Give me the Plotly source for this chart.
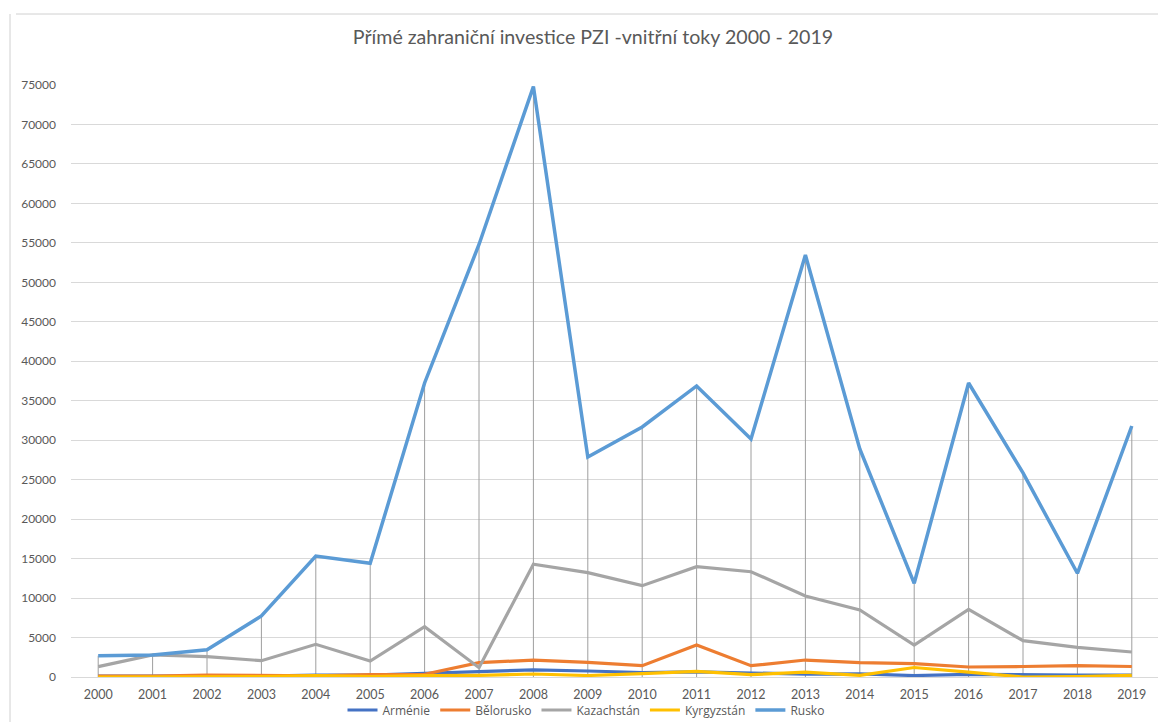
import plotly.graph_objects as go

years = [str(y) for y in range(2000, 2020)]

armenie = [100, 70, 110, 120, 250, 240, 450, 660, 900, 760, 570, 650, 490, 370, 400, 180, 340, 250, 250, 250]
belorusko = [120, 100, 250, 170, 160, 300, 350, 1810, 2150, 1860, 1430, 4050, 1430, 2150, 1810, 1690, 1270, 1330, 1430, 1330]
kazachstan = [1310, 2790, 2570, 2070, 4140, 2030, 6380, 1180, 14280, 13220, 11570, 13980, 13340, 10260, 8490, 4050, 8570, 4600, 3760, 3170]
kyrgyzstan = [0, 5, 5, 46, 175, 43, 182, 208, 377, 189, 438, 700, 293, 626, 211, 1200, 616, 0, 47, 210]
rusko = [2700, 2800, 3450, 7730, 15330, 14400, 37250, 54800, 74800, 27870, 31670, 36870, 30150, 53460, 28890, 11870, 37250, 25850, 13140, 31800]

series = [
    ("Arménie", armenie, "#4472C4"),
    ("Bělorusko", belorusko, "#ED7D31"),
    ("Kazachstán", kazachstan, "#A5A5A5"),
    ("Kyrgyzstán", kyrgyzstan, "#FFC000"),
    ("Rusko", rusko, "#5B9BD5"),
]

txt = "#595959"
font_family = "Lato, 'Open Sans', sans-serif"

fig = go.Figure()

# drop lines (from axis to highest point in each category)
dx, dy = [], []
for i, yr in enumerate(years):
    top = max(s[1][i] for s in series)
    dx += [yr, yr, None]
    dy += [0, top, None]
fig.add_trace(go.Scatter(x=dx, y=dy, mode="lines", line=dict(color="#9E9E9E", width=1),
                         showlegend=False, hoverinfo="skip"))

for name, vals, col in series:
    fig.add_trace(go.Scatter(x=years, y=vals, mode="lines", name=name,
                             line=dict(color=col, width=3.5 if name == "Rusko" else 3.2)))

# the page body adds an 8px offset; figure is sized so the plot lands where the reference has it
W, H = 1158, 714
L, T, R, B = 63, 77, 7, 45
PW, PH = W - L - R, H - T - B

fig.update_layout(
    width=W, height=H,
    paper_bgcolor="white", plot_bgcolor="white",
    margin=dict(l=L, r=R, t=T, b=B, autoexpand=False),
    font=dict(family=font_family, size=12, color=txt),
    title=dict(text="Přímé zahraniční investice PZI -vnitřní toky 2000 - 2019",
               x=(593 - 8 - L) / PW, xanchor="center", xref="paper",
               y=1 - (37 - 8) / H, yanchor="middle",
               font=dict(family=font_family, size=19.6, color=txt)),
    legend=dict(orientation="h", xref="paper", x=(586 - 8 - L) / PW, xanchor="center",
                yref="container", y=1 - (710 - 8) / H, yanchor="middle",
                font=dict(family="'Open Sans', sans-serif", size=12, color=txt), itemwidth=30,
                tracegroupgap=0, bgcolor="rgba(0,0,0,0)"),
    showlegend=True,
)
fig.update_xaxes(type="category", range=[-0.5, 19.5], showgrid=False, showline=True,
                 linecolor="#D9D9D9", linewidth=1, ticks="", ticklabelstandoff=6,
                 tickfont=dict(size=12.5, color=txt), automargin=False, fixedrange=True)
fig.update_yaxes(range=[0, 75000], dtick=5000, showgrid=True, gridcolor="#D9D9D9", gridwidth=1,
                 zeroline=False, showline=False, ticks="", ticklabelstandoff=14,
                 tickfont=dict(size=12, color=txt), tickformat="d", automargin=False, fixedrange=True)

# chart-area frame (partial, as in the reference screenshot)
fig.add_shape(type="line", xref="paper", yref="paper", x0=-55 / PW, x1=1.01, y0=(677 - 14) / PH, y1=(677 - 14) / PH,
              line=dict(color="#D0D0D0", width=1))
fig.add_shape(type="line", xref="paper", yref="paper", x0=-61 / PW, x1=-61 / PW, y0=(677 - 14) / PH, y1=-0.1,
              line=dict(color="#D0D0D0", width=1))

fig.write_html("out.html")
